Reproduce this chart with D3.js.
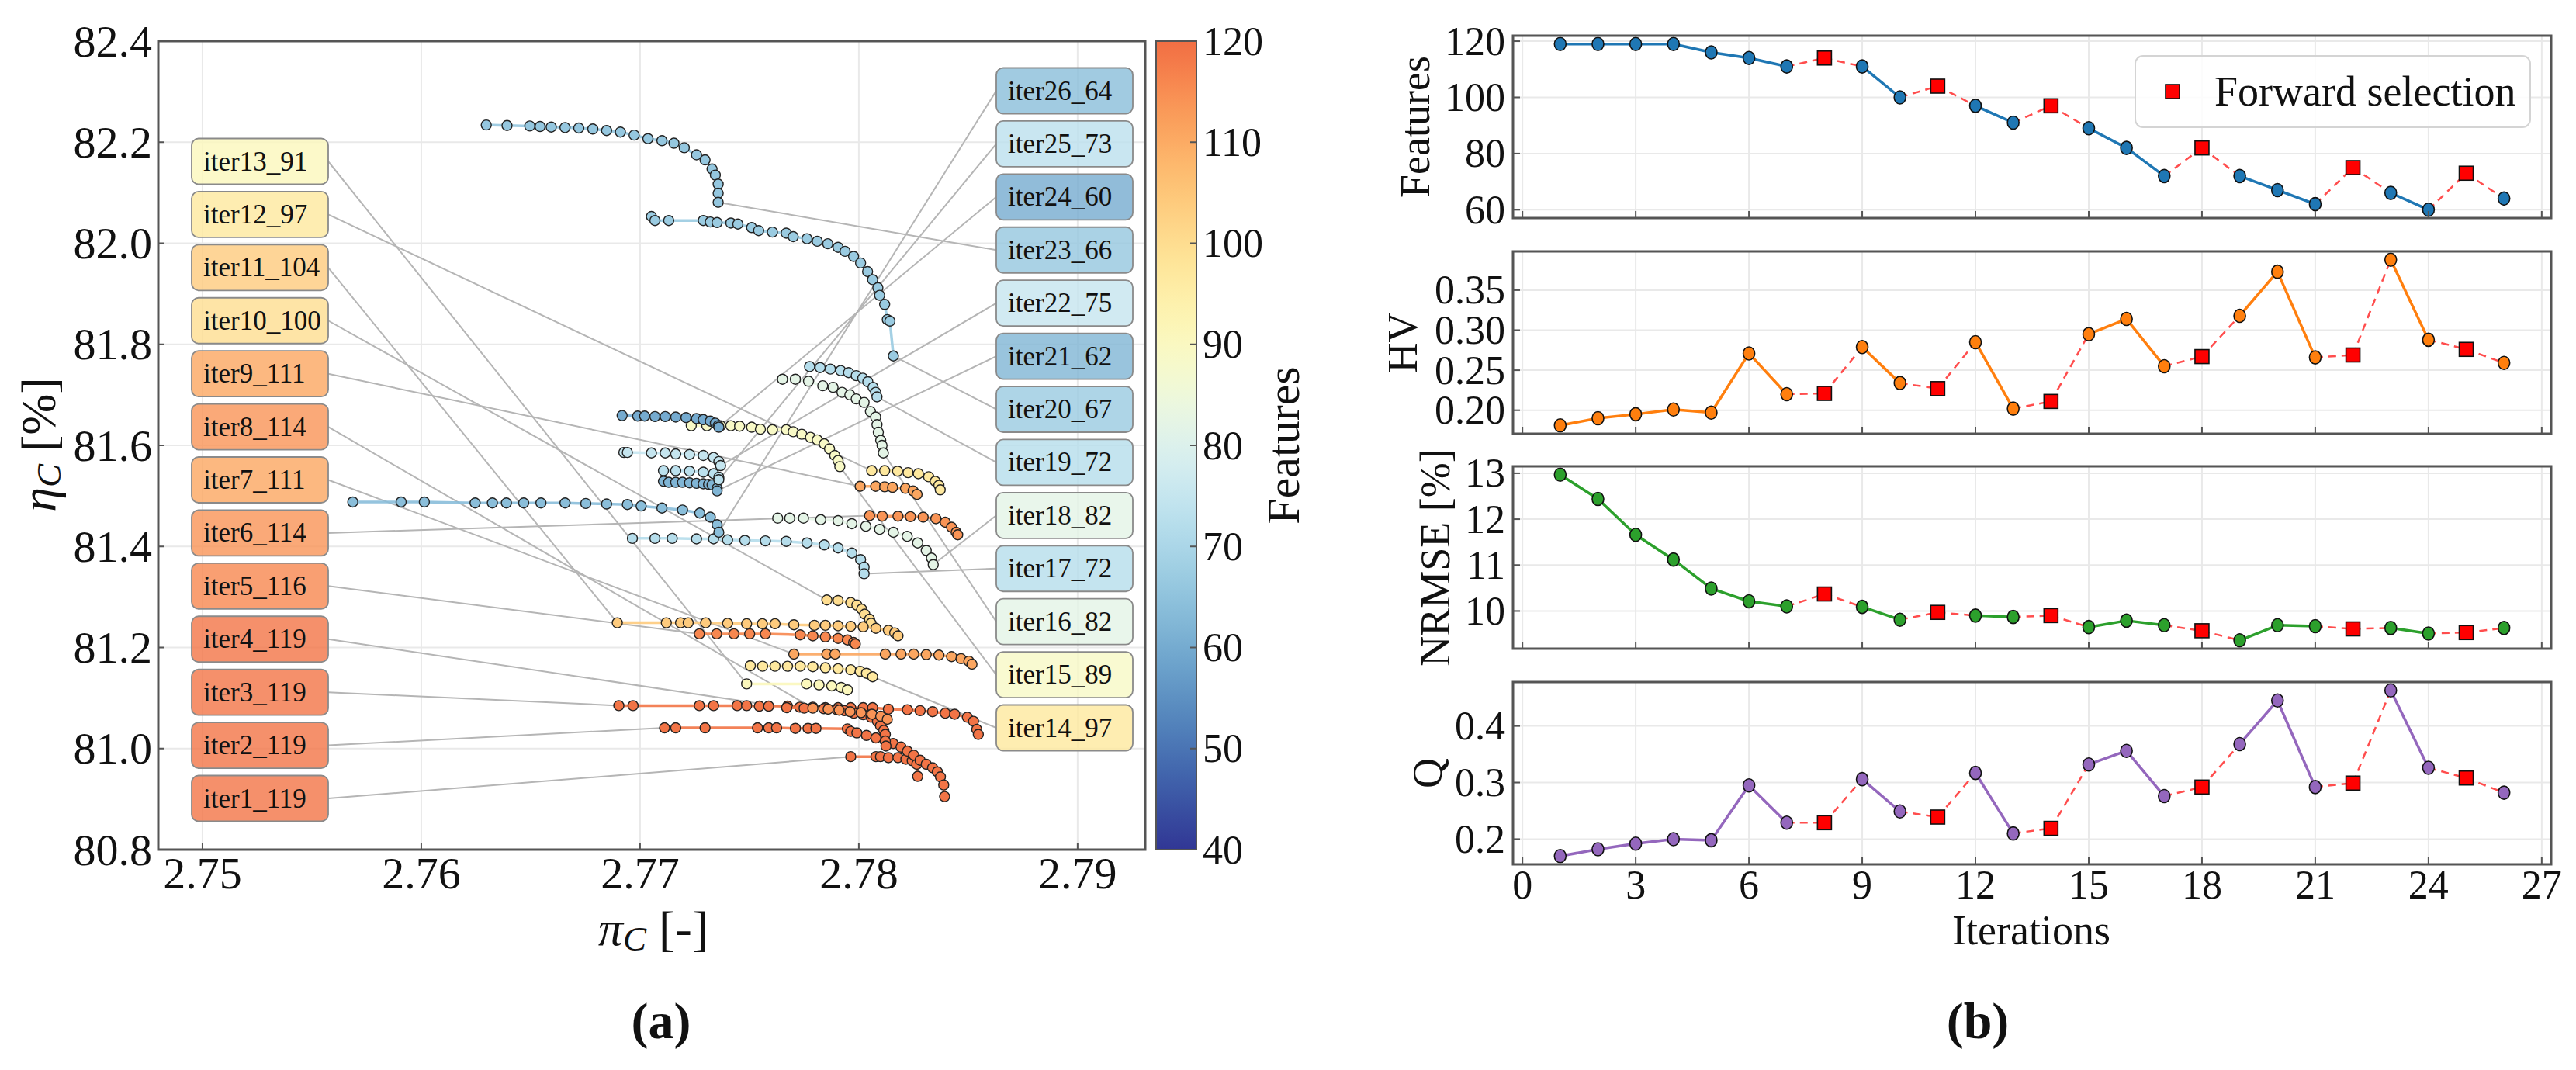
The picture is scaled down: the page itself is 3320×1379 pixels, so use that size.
<!DOCTYPE html>
<html>
<head>
<meta charset="utf-8">
<title>Pareto fronts and forward selection</title>
<script src="https://d3js.org/d3.v7.min.js"></script>
<style>
  body { margin: 0; background: #fff; }
  svg, svg text { font-family: "Liberation Serif", "DejaVu Serif", serif; fill: #111; }
</style>
</head>
<body>
<div id="chart"></div>
<script>
// ---------- data ----------
const iterations = d3.range(1, 27);
const featureCounts = [119,119,119,119,116,114,111,114,111,100,104,97,91,97,89,82,72,82,72,67,62,75,66,60,73,64];
const hvValues = [0.181,0.190,0.195,0.201,0.197,0.271,0.220,0.221,0.279,0.234,0.227,0.285,0.202,0.211,0.295,0.314,0.255,0.267,0.318,0.373,0.266,0.269,0.388,0.288,0.276,0.259];
const nrmseValues = [12.97,12.44,11.66,11.12,10.49,10.21,10.10,10.37,10.09,9.81,9.97,9.90,9.87,9.90,9.65,9.79,9.69,9.57,9.36,9.69,9.67,9.61,9.63,9.51,9.53,9.63];
const qValues = [0.170,0.182,0.192,0.200,0.198,0.295,0.229,0.229,0.306,0.249,0.239,0.317,0.210,0.219,0.332,0.356,0.276,0.292,0.368,0.445,0.292,0.299,0.463,0.326,0.308,0.282];
const forwardIters = [8, 11, 14, 18, 22, 25];

// Pareto fronts per iteration: [pi_C, eta_C]
const front01 = [[2.77963,80.984],[2.78078,80.984],[2.78099,80.984],[2.78135,80.982],[2.78179,80.982],[2.78215,80.979],[2.78244,80.976],[2.78265,80.969],[2.78269,80.945]];
const front02 = [[2.77112,81.041],[2.77163,81.041],[2.77297,81.041],[2.77537,81.041],[2.77588,81.041],[2.77624,81.041],[2.7771,81.040],[2.77768,81.040],[2.77804,81.040],[2.77948,81.039],[2.77963,81.034],[2.77991,81.031],[2.78035,81.026],[2.78078,81.021],[2.78121,81.015],[2.78157,81.010],[2.78193,81.003],[2.78222,80.995],[2.78251,80.987],[2.7828,80.977],[2.78308,80.969],[2.78337,80.962],[2.78359,80.954],[2.78373,80.944],[2.78388,80.928],[2.78392,80.905]];
const front03 = [[2.76903,81.085],[2.76968,81.085],[2.77271,81.085],[2.77336,81.085],[2.77444,81.085],[2.77487,81.085],[2.77545,81.084],[2.77588,81.084],[2.77674,81.084],[2.7773,81.082],[2.7779,81.082],[2.77847,81.081],[2.77905,81.081],[2.77963,81.081],[2.7802,81.081],[2.78063,81.081],[2.78135,81.078],[2.78222,81.077],[2.7828,81.075],[2.78337,81.073],[2.78395,81.070],[2.78438,81.068],[2.78496,81.062],[2.78524,81.054],[2.78539,81.038],[2.78546,81.028]];
const front04 = [[2.7767,81.081],[2.7775,81.080],[2.7784,81.079],[2.779,81.077],[2.77934,81.075],[2.77977,81.070],[2.7802,81.067],[2.78056,81.062],[2.78085,81.054],[2.78099,81.045],[2.78114,81.036],[2.78121,81.028],[2.78121,81.015],[2.78124,81.005]];
const front05 = [[2.77271,81.227],[2.7735,81.227],[2.77429,81.227],[2.77501,81.227],[2.77573,81.227],[2.77732,81.225],[2.7779,81.223],[2.77847,81.221],[2.77905,81.218],[2.77948,81.215],[2.77976,81.210],[2.77984,81.207]];
const front06 = [[2.78049,81.461],[2.78107,81.460],[2.78179,81.460],[2.78236,81.459],[2.78294,81.458],[2.78352,81.455],[2.78395,81.448],[2.78424,81.438],[2.78445,81.428],[2.78452,81.423]];
const front07 = [[2.77703,81.187],[2.77854,81.187],[2.77891,81.187],[2.78121,81.187],[2.78193,81.187],[2.78251,81.187],[2.78308,81.186],[2.78366,81.185],[2.78424,81.182],[2.78467,81.178],[2.78503,81.173],[2.78517,81.167]];
const front08 = [[2.7779,81.080],[2.7786,81.078],[2.7791,81.076],[2.7796,81.073],[2.7801,81.071],[2.7806,81.068],[2.781,81.064],[2.7813,81.058]];
const front09 = [[2.78006,81.519],[2.78077,81.519],[2.78118,81.518],[2.78154,81.517],[2.78213,81.515],[2.78248,81.510],[2.78266,81.503]];
const front10 = [[2.77854,81.294],[2.77905,81.293],[2.77963,81.289],[2.77991,81.284],[2.78013,81.276],[2.78027,81.266],[2.78049,81.256],[2.78056,81.248]];
const front11 = [[2.76896,81.249],[2.7712,81.249],[2.77185,81.249],[2.7722,81.249],[2.773,81.249],[2.774,81.248],[2.77487,81.247],[2.77559,81.247],[2.77617,81.247],[2.77703,81.245],[2.77797,81.244],[2.77847,81.244],[2.77905,81.243],[2.77963,81.242],[2.7802,81.241],[2.78078,81.238],[2.78135,81.234],[2.78164,81.229],[2.78179,81.223]];
const front12 = [[2.78059,81.550],[2.78118,81.550],[2.78177,81.549],[2.78225,81.546],[2.78272,81.544],[2.78319,81.538],[2.78349,81.529],[2.78366,81.521],[2.78372,81.512]];
const front13 = [[2.77487,81.128],[2.77761,81.128],[2.77818,81.126],[2.77876,81.124],[2.77919,81.121],[2.77948,81.116]];
const front14 = [[2.77504,81.164],[2.7756,81.163],[2.77617,81.163],[2.77674,81.163],[2.77732,81.163],[2.7779,81.162],[2.77847,81.160],[2.77905,81.158],[2.77963,81.156],[2.78006,81.153],[2.78035,81.149],[2.78063,81.142]];
const front15 = [[2.77234,81.639],[2.77305,81.639],[2.77368,81.639],[2.77415,81.639],[2.77455,81.638],[2.7751,81.636],[2.7755,81.632],[2.77605,81.631],[2.77668,81.631],[2.777,81.627],[2.77739,81.622],[2.77779,81.616],[2.7781,81.611],[2.77842,81.603],[2.77866,81.593],[2.7789,81.580],[2.77905,81.570],[2.77913,81.558]];
const front16 = [[2.77651,81.731],[2.7771,81.731],[2.7777,81.727],[2.77835,81.718],[2.77882,81.715],[2.77923,81.705],[2.77959,81.700],[2.77988,81.692],[2.78024,81.685],[2.78053,81.667],[2.78077,81.656],[2.78083,81.641],[2.78089,81.626],[2.781,81.610],[2.78106,81.600],[2.78112,81.585]];
const front17 = [[2.76965,81.416],[2.77068,81.416],[2.77147,81.416],[2.77258,81.415],[2.77336,81.415],[2.774,81.413],[2.77479,81.412],[2.77573,81.411],[2.77668,81.410],[2.77763,81.407],[2.77842,81.403],[2.77905,81.397],[2.77968,81.387],[2.78008,81.374],[2.78024,81.359],[2.78024,81.346]];
const front18 = [[2.77629,81.456],[2.77684,81.456],[2.77747,81.456],[2.77826,81.453],[2.77905,81.451],[2.77968,81.445],[2.78032,81.440],[2.78095,81.434],[2.78158,81.428],[2.78221,81.420],[2.78269,81.407],[2.78308,81.392],[2.78332,81.377],[2.7834,81.364]];
const front19 = [[2.77775,81.756],[2.77823,81.754],[2.7787,81.751],[2.77917,81.748],[2.77953,81.744],[2.77988,81.738],[2.78018,81.733],[2.78041,81.726],[2.78065,81.715],[2.78077,81.705],[2.78083,81.696]];
const front20 = [[2.77052,82.053],[2.77068,82.045],[2.77131,82.045],[2.77289,82.045],[2.77321,82.042],[2.77352,82.041],[2.77415,82.040],[2.77447,82.038],[2.7751,82.031],[2.77542,82.025],[2.77605,82.022],[2.77668,82.020],[2.777,82.013],[2.77763,82.009],[2.7781,82.004],[2.77858,81.999],[2.77905,81.992],[2.77937,81.984],[2.77976,81.974],[2.78008,81.961],[2.7804,81.944],[2.78063,81.928],[2.78087,81.912],[2.78095,81.897],[2.78118,81.879],[2.7813,81.849],[2.78142,81.846],[2.78158,81.777]];
const front21 = [[2.77107,81.529],[2.77131,81.527],[2.77163,81.527],[2.77194,81.527],[2.77226,81.526],[2.77258,81.525],[2.77289,81.524],[2.77313,81.523],[2.77329,81.522],[2.77352,81.515],[2.77352,81.510]];
const front22 = [[2.76926,81.586],[2.76942,81.586],[2.77052,81.585],[2.77115,81.585],[2.77163,81.583],[2.77226,81.582],[2.77289,81.580],[2.77336,81.576],[2.7736,81.568],[2.77368,81.560]];
const front23 = [[2.76297,82.234],[2.76392,82.233],[2.76496,82.232],[2.76543,82.231],[2.76594,82.230],[2.76657,82.229],[2.7672,82.228],[2.76784,82.226],[2.76847,82.223],[2.7691,82.220],[2.76973,82.214],[2.77036,82.207],[2.771,82.203],[2.77155,82.198],[2.77202,82.189],[2.77258,82.175],[2.77297,82.165],[2.77329,82.147],[2.77344,82.135],[2.77357,82.117],[2.77357,82.099],[2.77357,82.081]];
const front24 = [[2.76918,81.659],[2.76989,81.658],[2.77021,81.658],[2.77068,81.657],[2.77115,81.657],[2.77163,81.656],[2.7721,81.655],[2.77258,81.653],[2.77289,81.651],[2.77321,81.648],[2.77344,81.644],[2.77357,81.639],[2.7736,81.636]];
const front25 = [[2.77107,81.550],[2.77163,81.550],[2.77226,81.549],[2.77289,81.547],[2.77336,81.544],[2.7736,81.537],[2.7736,81.532]];
const front26 = [[2.75687,81.488],[2.75908,81.488],[2.76014,81.488],[2.76246,81.486],[2.76325,81.486],[2.76389,81.486],[2.76468,81.486],[2.76547,81.486],[2.76657,81.486],[2.76752,81.485],[2.76847,81.484],[2.76942,81.483],[2.77005,81.480],[2.771,81.476],[2.77194,81.472],[2.77273,81.466],[2.77321,81.458],[2.77352,81.443],[2.7736,81.428]];
const fronts = [front01,front02,front03,front04,front05,front06,front07,front08,front09,front10,front11,front12,front13,
                front14,front15,front16,front17,front18,front19,front20,front21,front22,front23,front24,front25,front26];

const piTicks = [2.75, 2.76, 2.77, 2.78, 2.79];
const etaTicks = [80.8, 81.0, 81.2, 81.4, 81.6, 81.8, 82.0, 82.2, 82.4];
const cbarTicks = [40, 50, 60, 70, 80, 90, 100, 110, 120];
const iterTicks = [0, 3, 6, 9, 12, 15, 18, 21, 24, 27];

// ---------- setup ----------
const W = 3320, H = 1379;
const serif = '"Liberation Serif", "DejaVu Serif", serif';
const svg = d3.select("#chart").append("svg")
  .attr("width", W).attr("height", H)
  .attr("viewBox", `0 0 ${W} ${H}`)
  .attr("font-family", serif);
svg.append("rect").attr("width", W).attr("height", H).attr("fill", "#fff");

const gridColor = "#e9e9e9", spineColor = "#555";
const cmap = v => d3.interpolateRdYlBu(1 - (v - 40) / 80 * 0.8);

// ================= panel (a) =================
const xL = d3.scaleLinear().domain([2.74798, 2.79309]).range([204, 1476]);
const yL = d3.scaleLinear().domain([80.8, 82.4]).range([1095, 53]);

const pa = svg.append("g");

// grid
pa.selectAll(".gx").data(piTicks).enter().append("line")
  .attr("x1", d => xL(d)).attr("x2", d => xL(d))
  .attr("y1", yL.range()[1]).attr("y2", yL.range()[0])
  .attr("stroke", gridColor).attr("stroke-width", 2);
pa.selectAll(".gy").data(etaTicks).enter().append("line")
  .attr("x1", xL.range()[0]).attr("x2", xL.range()[1])
  .attr("y1", d => yL(d)).attr("y2", d => yL(d))
  .attr("stroke", gridColor).attr("stroke-width", 2);

// label boxes layout
const leftBoxY = d3.scaleLinear().domain([13, 1]).range([208, 1029]);
const rightBoxY = d3.scaleLinear().domain([26, 14]).range([117, 938]);
const boxW = 176, boxH = 59;
const boxes = iterations.map((it, i) => {
  const left = it <= 13;
  const cy = left ? leftBoxY(it) : rightBoxY(it);
  const x0 = left ? 247 : 1284;
  const f = fronts[i];
  const anchor = left ? f[0] : f[f.length - 1];
  return { it, feat: featureCounts[i], left, cy, x0, anchor };
});

// leader lines
pa.selectAll(".leader").data(boxes).enter().append("line")
  .attr("x1", d => d.left ? d.x0 + boxW : d.x0)
  .attr("y1", d => d.cy)
  .attr("x2", d => xL(d.anchor[0]))
  .attr("y2", d => yL(d.anchor[1]))
  .attr("stroke", "#b5b5b5").attr("stroke-width", 2);

// fronts: connecting line then markers
const frontLine = d3.line().x(d => xL(d[0])).y(d => yL(d[1]));
const fg = pa.selectAll(".front").data(fronts).enter().append("g");
fg.append("path")
  .attr("d", d => frontLine(d))
  .attr("fill", "none")
  .attr("stroke", (d, i) => cmap(featureCounts[i]))
  .attr("stroke-width", 3.5).attr("opacity", 0.9);
fg.each(function (d, i) {
  d3.select(this).selectAll("circle").data(d).enter().append("circle")
    .attr("cx", p => xL(p[0])).attr("cy", p => yL(p[1]))
    .attr("r", 6.5)
    .attr("fill", cmap(featureCounts[i]))
    .attr("stroke", "#222").attr("stroke-width", 1.4);
});

// boxes
const bg = pa.selectAll(".box").data(boxes).enter().append("g");
bg.append("rect")
  .attr("x", d => d.x0).attr("y", d => d.cy - boxH / 2)
  .attr("width", boxW).attr("height", boxH)
  .attr("rx", 9)
  .attr("fill", d => cmap(d.feat)).attr("fill-opacity", 0.8)
  .attr("stroke", "#8a8a8a").attr("stroke-width", 1.8);
bg.append("text")
  .attr("x", d => d.x0 + 15).attr("y", d => d.cy)
  .attr("dominant-baseline", "central")
  .attr("font-family", serif).attr("font-size", 35)
  .text(d => `iter${d.it}_${d.feat}`);

// spines
pa.append("rect")
  .attr("x", 204).attr("y", 53).attr("width", 1476 - 204).attr("height", 1095 - 53)
  .attr("fill", "none").attr("stroke", spineColor).attr("stroke-width", 3);

// ticks (inward) and labels
pa.selectAll(".tx").data(piTicks).enter().append("line")
  .attr("x1", d => xL(d)).attr("x2", d => xL(d))
  .attr("y1", 1095).attr("y2", 1087).attr("stroke", spineColor).attr("stroke-width", 2);
pa.selectAll(".ty").data(etaTicks).enter().append("line")
  .attr("x1", 204).attr("x2", 212)
  .attr("y1", d => yL(d)).attr("y2", d => yL(d)).attr("stroke", spineColor).attr("stroke-width", 2);
pa.selectAll(".txl").data(piTicks).enter().append("text")
  .attr("x", d => xL(d)).attr("y", 1145)
  .attr("text-anchor", "middle").attr("font-family", serif).attr("font-size", 58)
  .text(d => d3.format(".2f")(d));
pa.selectAll(".tyl").data(etaTicks).enter().append("text")
  .attr("x", 196).attr("y", d => yL(d))
  .attr("text-anchor", "end").attr("dominant-baseline", "central")
  .attr("font-family", serif).attr("font-size", 58)
  .text(d => d3.format(".1f")(d));

// axis labels
const xlab = pa.append("text").attr("x", 842).attr("y", 1196)
  .attr("text-anchor", "middle").attr("dominant-baseline", "central")
  .attr("font-family", serif).attr("font-size", 64);
xlab.append("tspan").attr("font-style", "italic").text("π");
xlab.append("tspan").attr("font-style", "italic").attr("font-size", 45).attr("dy", 14).text("C");
xlab.append("tspan").attr("dy", -14).text(" [-]");

const ylab = pa.append("text").attr("transform", "translate(49,573) rotate(-90)")
  .attr("text-anchor", "middle").attr("dominant-baseline", "central")
  .attr("font-family", serif).attr("font-size", 64);
ylab.append("tspan").attr("font-style", "italic").text("η");
ylab.append("tspan").attr("font-style", "italic").attr("font-size", 45).attr("dy", 14).text("C");
ylab.append("tspan").attr("dy", -14).text(" [%]");

pa.append("text").attr("x", 852).attr("y", 1315)
  .attr("text-anchor", "middle").attr("dominant-baseline", "central")
  .attr("font-family", serif).attr("font-size", 66).attr("font-weight", "bold").text("(a)");

// colorbar
const cbY = d3.scaleLinear().domain([40, 120]).range([1095, 53]);
const grad = svg.append("defs").append("linearGradient")
  .attr("id", "cbgrad").attr("x1", 0).attr("y1", 1).attr("x2", 0).attr("y2", 0);
grad.selectAll("stop").data(d3.range(40, 121, 2)).enter().append("stop")
  .attr("offset", d => (d - 40) / 80)
  .attr("stop-color", d => cmap(d));
pa.append("rect").attr("x", 1490).attr("y", 53).attr("width", 52).attr("height", 1095 - 53)
  .attr("fill", "url(#cbgrad)").attr("stroke", spineColor).attr("stroke-width", 2);
pa.selectAll(".cbt").data(cbarTicks).enter().append("line")
  .attr("x1", 1542).attr("x2", 1534)
  .attr("y1", d => cbY(d)).attr("y2", d => cbY(d)).attr("stroke", spineColor).attr("stroke-width", 2);
pa.selectAll(".cbl").data(cbarTicks).enter().append("text")
  .attr("x", 1550).attr("y", d => cbY(d))
  .attr("dominant-baseline", "central").attr("font-family", serif).attr("font-size", 52)
  .text(d => d);
pa.append("text").attr("transform", "translate(1654,574) rotate(-90)")
  .attr("text-anchor", "middle").attr("dominant-baseline", "central")
  .attr("font-family", serif).attr("font-size", 60).text("Features");

// ================= panel (b) =================
const xR = d3.scaleLinear().domain([1 - 1.25, 26 + 1.25]).range([1950, 3288]);
const subH = 235;
const forwardSet = new Set(forwardIters);

const subplots = [
  { vals: featureCounts, color: "#1f77b4", ticks: [60, 80, 100, 120], fmt: d3.format("d"), label: "Features", lx: 1824, top: 46 },
  { vals: hvValues, color: "#ff7f0e", ticks: [0.20, 0.25, 0.30, 0.35], fmt: d3.format(".2f"), label: "HV", lx: 1808, top: 324 },
  { vals: nrmseValues, color: "#2ca02c", ticks: [10, 11, 12, 13], fmt: d3.format("d"), label: "NRMSE [%]", lx: 1850, top: 601 },
  { vals: qValues, color: "#9467bd", ticks: [0.2, 0.3, 0.4], fmt: d3.format(".1f"), label: "Q", lx: 1840, top: 879 }
];

subplots.forEach((sp, k) => {
  const [mn, mx] = d3.extent(sp.vals);
  const pad = (mx - mn) * 0.05;
  const y = d3.scaleLinear().domain([mn - pad, mx + pad]).range([sp.top + subH, sp.top]);
  const g = svg.append("g");
  const bottom = sp.top + subH;

  g.selectAll(".gx").data(iterTicks).enter().append("line")
    .attr("x1", d => xR(d)).attr("x2", d => xR(d)).attr("y1", sp.top).attr("y2", bottom)
    .attr("stroke", gridColor).attr("stroke-width", 2);
  g.selectAll(".gy").data(sp.ticks).enter().append("line")
    .attr("x1", xR.range()[0]).attr("x2", xR.range()[1]).attr("y1", d => y(d)).attr("y2", d => y(d))
    .attr("stroke", gridColor).attr("stroke-width", 2);

  const pts = iterations.map((it, i) => ({ it, v: sp.vals[i], fwd: forwardSet.has(it) }));
  const segs = d3.pairs(pts).map(([a, b]) => ({ a, b, dashed: a.fwd || b.fwd }));

  g.selectAll(".solid").data(segs.filter(s => !s.dashed)).enter().append("line")
    .attr("x1", s => xR(s.a.it)).attr("y1", s => y(s.a.v))
    .attr("x2", s => xR(s.b.it)).attr("y2", s => y(s.b.v))
    .attr("stroke", sp.color).attr("stroke-width", 3.5).attr("stroke-linecap", "round");
  g.selectAll(".dash").data(segs.filter(s => s.dashed)).enter().append("line")
    .attr("x1", s => xR(s.a.it)).attr("y1", s => y(s.a.v))
    .attr("x2", s => xR(s.b.it)).attr("y2", s => y(s.b.v))
    .attr("stroke", "#ff4d4d").attr("stroke-width", 2.5).attr("stroke-dasharray", "10,7");

  g.selectAll(".pt").data(pts.filter(p => !p.fwd)).enter().append("ellipse")
    .attr("cx", p => xR(p.it)).attr("cy", p => y(p.v))
    .attr("rx", 7.5).attr("ry", 8.5)
    .attr("fill", sp.color).attr("stroke", "#111").attr("stroke-width", 1.6);
  g.selectAll(".sq").data(pts.filter(p => p.fwd)).enter().append("rect")
    .attr("x", p => xR(p.it) - 9).attr("y", p => y(p.v) - 9)
    .attr("width", 18).attr("height", 18)
    .attr("fill", "#ff0000").attr("stroke", "#111").attr("stroke-width", 1.6);

  g.append("rect").attr("x", 1950).attr("y", sp.top).attr("width", 3288 - 1950).attr("height", subH)
    .attr("fill", "none").attr("stroke", spineColor).attr("stroke-width", 3);

  g.selectAll(".tx").data(iterTicks).enter().append("line")
    .attr("x1", d => xR(d)).attr("x2", d => xR(d)).attr("y1", bottom).attr("y2", bottom - 9)
    .attr("stroke", spineColor).attr("stroke-width", 2);
  g.selectAll(".ty").data(sp.ticks).enter().append("line")
    .attr("x1", 1950).attr("x2", 1959).attr("y1", d => y(d)).attr("y2", d => y(d))
    .attr("stroke", spineColor).attr("stroke-width", 2);
  g.selectAll(".tyl").data(sp.ticks).enter().append("text")
    .attr("x", 1940).attr("y", d => y(d))
    .attr("text-anchor", "end").attr("dominant-baseline", "central")
    .attr("font-family", serif).attr("font-size", 52)
    .text(d => sp.fmt(d));

  g.append("text").attr("transform", `translate(${sp.lx},${sp.top + subH / 2}) rotate(-90)`)
    .attr("text-anchor", "middle").attr("dominant-baseline", "central")
    .attr("font-family", serif).attr("font-size", 54).text(sp.label);

  if (k === subplots.length - 1) {
    g.selectAll(".txl").data(iterTicks).enter().append("text")
      .attr("x", d => xR(d)).attr("y", bottom + 44)
      .attr("text-anchor", "middle").attr("font-family", serif).attr("font-size", 52)
      .text(d => d);
    g.append("text").attr("x", 2618).attr("y", 1199)
      .attr("text-anchor", "middle").attr("dominant-baseline", "central")
      .attr("font-family", serif).attr("font-size", 54).text("Iterations");
  }

  if (k === 0) {
    const lg = g.append("g");
    lg.append("rect").attr("x", 2752).attr("y", 72).attr("width", 509).attr("height", 92)
      .attr("rx", 10).attr("fill", "#fff").attr("fill-opacity", 0.85)
      .attr("stroke", "#d4d4d4").attr("stroke-width", 2);
    lg.append("rect").attr("x", 2791).attr("y", 109).attr("width", 18).attr("height", 18)
      .attr("fill", "#ff0000").attr("stroke", "#111").attr("stroke-width", 1.6);
    lg.append("text").attr("x", 2854).attr("y", 118)
      .attr("dominant-baseline", "central").attr("font-family", serif).attr("font-size", 54)
      .text("Forward selection");
  }
});

svg.append("text").attr("x", 2549).attr("y", 1315)
  .attr("text-anchor", "middle").attr("dominant-baseline", "central")
  .attr("font-family", serif).attr("font-size", 66).attr("font-weight", "bold").text("(b)");
</script>
</body>
</html>
